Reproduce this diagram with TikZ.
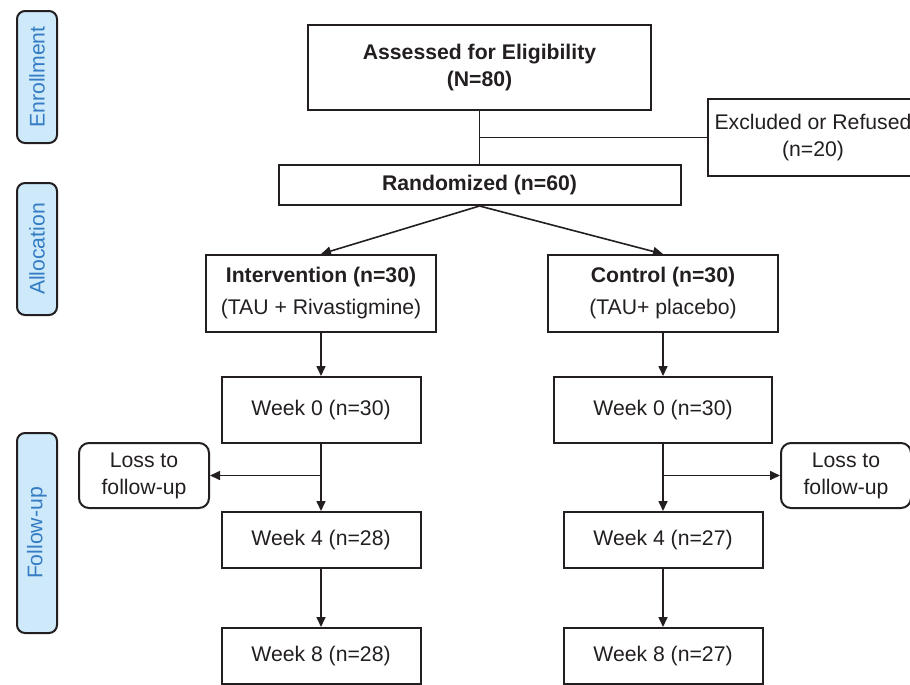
\documentclass[tikz,border=0pt]{standalone}
\usepackage{fontspec}
\setmainfont{Liberation Sans}
\usepackage{xcolor}
\usetikzlibrary{positioning}
\usetikzlibrary{arrows.meta}
\definecolor{inkgray}{RGB}{35,31,32}
\definecolor{stagefill}{RGB}{205,233,250}
\definecolor{stagetext}{RGB}{52,124,196}
\tikzstyle{every node}=[font=\fontsize{10.6}{13.5}\selectfont, text=inkgray, align=center]
\tikzstyle{box}=[draw=inkgray, line width=1pt, inner sep=2pt]
\tikzstyle{loss}=[box, rounded corners=5pt, minimum width=65pt, minimum height=32.5pt]
\tikzstyle{stage}=[draw=inkgray, line width=1pt, rounded corners=4pt, fill=stagefill, text=stagetext, rotate=90, minimum height=20pt, inner sep=1pt]
\tikzstyle{flow}=[-{Triangle[length=5pt, width=4.5pt]}, draw=inkgray, line width=0.8pt]
\tikzstyle{link}=[draw=inkgray, line width=0.8pt]

\begin{document}
\begin{tikzpicture}[x=0.5pt, y=-0.5pt]
    \useasboundingbox (0,0) rectangle (910,685);

    \node[stage, minimum width=66pt]  (enroll)  at (37,77)   {Enrollment};
    \node[stage, minimum width=66pt]  (alloc)   at (37,249)  {Allocation};
    \node[stage, minimum width=100pt] (follow)  at (37,533)  {Follow-up};

    \node[box, minimum width=171.5pt, minimum height=42.5pt] (assessed)   at (479.5,67.5)           {\textbf{Assessed for Eligibility}\\\textbf{(N=80)}};
    \node[box, minimum width=201pt, minimum height=20pt]     (randomized) [below = 26.5pt of assessed] {\textbf{Randomized (n=60)}};
    \node[box, minimum width=105pt, minimum height=38.5pt, anchor=west] (excluded) at (707,137.5) {Excluded or Refused\\(n=20)};

    \node[box, minimum width=115pt, minimum height=38.5pt] (intervention) at (321,293.5) {\textbf{Intervention (n=30)}\\[2.5pt](TAU + Rivastigmine)};
    \node[box, minimum width=115pt, minimum height=38.5pt] (control)      at (663,293.5) {\textbf{Control (n=30)}\\[2.5pt](TAU+ placebo)};

    \node[box, minimum width=99.5pt, minimum height=33pt] (weekzeroI)  [below = 21.5pt of intervention] {Week 0 (n=30)};
    \node[box, minimum width=99.5pt, minimum height=28pt] (weekfourI)  [below = 33.5pt of weekzeroI]    {Week 4 (n=28)};
    \node[box, minimum width=99.5pt, minimum height=28pt] (weekeightI) [below = 29pt of weekfourI]      {Week 8 (n=28)};

    \node[box, minimum width=109pt, minimum height=33pt]  (weekzeroC)  [below = 21.5pt of control]      {Week 0 (n=30)};
    \node[box, minimum width=99.5pt, minimum height=28pt] (weekfourC)  [below = 33.5pt of weekzeroC]    {Week 4 (n=27)};
    \node[box, minimum width=99.5pt, minimum height=28pt] (weekeightC) [below = 29pt of weekfourC]      {Week 8 (n=27)};

    \node[loss] (lossI) at (144,475.5) {Loss to\\follow-up};
    \node[loss] (lossC) at (846,475.5) {Loss to\\follow-up};

    \draw[link] (assessed)   -- (randomized);
    \draw[link] (assessed.south |- excluded.west) -- (excluded.west);
    \draw[flow] (randomized.south) -- (intervention.north);
    \draw[flow] (randomized.south) -- (control.north);

    \draw[flow] (intervention) -- (weekzeroI);
    \draw[flow] (weekzeroI)    -- (weekfourI);
    \draw[flow] (weekfourI)    -- (weekeightI);
    \draw[flow] (weekzeroI.south |- lossI.east) -- (lossI.east);

    \draw[flow] (control)      -- (weekzeroC);
    \draw[flow] (weekzeroC)    -- (weekfourC);
    \draw[flow] (weekfourC)    -- (weekeightC);
    \draw[flow] (weekzeroC.south |- lossC.west) -- (lossC.west);
\end{tikzpicture}
\end{document}
